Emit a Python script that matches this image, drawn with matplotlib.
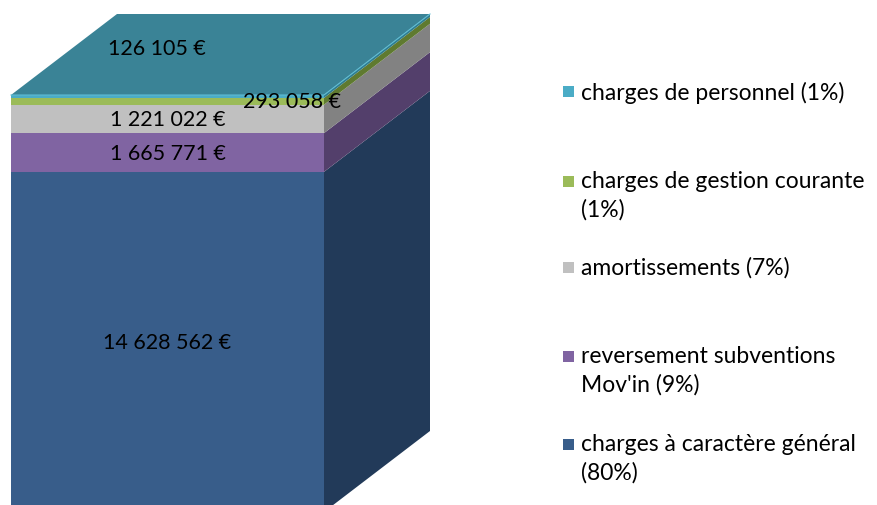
import numpy as np
import matplotlib
matplotlib.use("Agg")
import matplotlib.pyplot as plt
from matplotlib.patches import Polygon

plt.rcParams["font.family"] = ["Lato", "DejaVu Sans"]

# ---------------------------------------------------------------------------
# Data (bottom to top)
# ---------------------------------------------------------------------------
categories = ["charges à caractère général", "reversement subventions Mov'in",
              "amortissements", "charges de gestion courante",
              "charges de personnel"]
values = [14628562, 1665771, 1221022, 293058, 126105]
value_labels = ["14 628 562 €", "1 665 771 €", "1 221 022 €", "293 058 €", "126 105 €"]
legend_labels = ["charges à caractère général\n(80%)",
                 "reversement subventions\nMov'in (9%)",
                 "amortissements (7%)",
                 "charges de gestion courante\n(1%)",
                 "charges de personnel (1%)"]

front_colors = ["#385d8a", "#8064a2", "#c0c0c0", "#9bbb59", "#4bacc6"]
side_colors = ["#223a59", "#533f6b", "#828282", "#5f7a30", "#2f7d90"]
top_color = "#3a8396"

total = sum(values)
bottoms = np.concatenate([[0], np.cumsum(values)[:-1]])

# ---------------------------------------------------------------------------
# Figure: x in pixel units, y in value units
# ---------------------------------------------------------------------------
W, H = 878, 506
fig = plt.figure(figsize=(W / 100, H / 100), dpi=100)
ax = fig.add_axes([0, 0, 1, 1])
ax.set_xlim(0, W)
px = total / 417.0            # value per pixel (vertical)
y_base_px = 513               # pixel row of value 0 (just below the image)
ax.set_ylim((y_base_px - H) * px, y_base_px * px)
ax.axis("off")

x0, bw = 11, 313              # front face left edge and width
ddx, ddy = 106, 81 * px       # depth offset

# front faces
ax.bar([x0 + bw / 2] * len(values), values, width=bw, bottom=bottoms,
       color=front_colors, edgecolor="none", zorder=2)

# right side faces
for b, v, c in zip(bottoms, values, side_colors):
    xr = x0 + bw
    ax.add_patch(Polygon([[xr, b], [xr + ddx, b + ddy],
                          [xr + ddx, b + v + ddy], [xr, b + v]],
                         closed=True, fc=c, ec="none", zorder=2))

# top face
xt = x0
yt = total
ax.add_patch(Polygon([[xt, yt], [xt + ddx, yt + ddy],
                      [xt + bw + ddx, yt + ddy], [xt + bw, yt]],
                     closed=True, fc=top_color, ec="none", zorder=3))
ax.plot([xt, xt + bw, xt + bw + ddx], [yt, yt, yt + ddy],
        color="#5fbcd3", lw=0.8, zorder=4)

# value labels
fs = 15.5
mid = x0 + bw / 2
for i in range(3):
    ax.text(mid, bottoms[i] + values[i] / 2, value_labels[i], ha="center",
            va="center", fontsize=fs, color="black", zorder=5)
ax.text(x0 + bw - 32, bottoms[3] + values[3] / 2, value_labels[3],
        ha="center", va="center", fontsize=fs, color="black", zorder=5)
ax.text(mid - 11, total + ddy * 0.58, value_labels[4],
        ha="center", va="center", fontsize=fs, color="black", zorder=5)

# legend (top to bottom: personnel ... général)
leg_y = [93, 182, 268, 357, 445]
lfs = 16.5
for k, (lab, col) in enumerate(zip(legend_labels[::-1], front_colors[::-1])):
    yv = (y_base_px - leg_y[k]) * px
    ax.add_patch(plt.Rectangle((563, yv - 5.5 * px), 11, 11 * px, fc=col,
                               ec="none", zorder=5))
    for j, line in enumerate(lab.split("\n")):
        ax.text(581, yv - 28 * j * px, line, ha="left", va="center",
                fontsize=lfs, color="black", zorder=5)

fig.savefig("out.png", dpi=100)
